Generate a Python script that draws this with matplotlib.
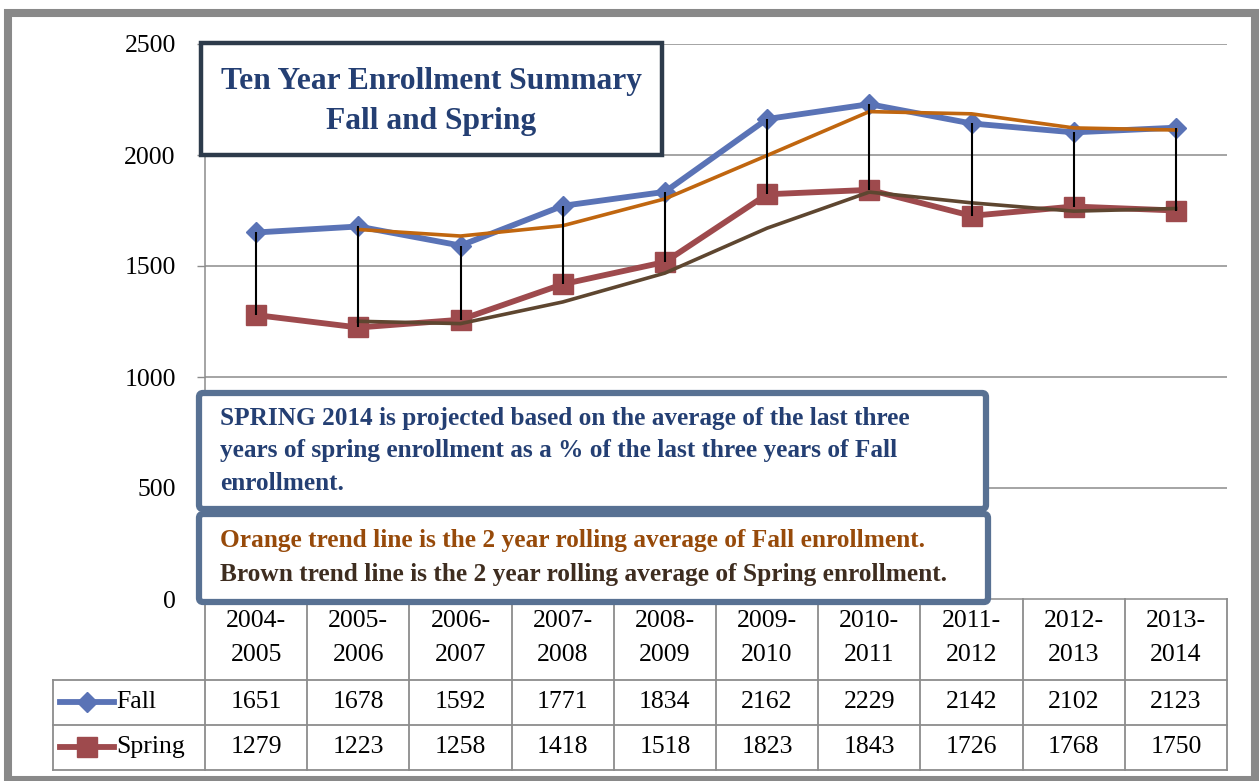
import numpy as np
import pandas as pd
import matplotlib
matplotlib.use("Agg")
import matplotlib.pyplot as plt
from matplotlib.patches import Rectangle, FancyBboxPatch

# --- data ---
years = ["2004-\n2005", "2005-\n2006", "2006-\n2007", "2007-\n2008", "2008-\n2009",
         "2009-\n2010", "2010-\n2011", "2011-\n2012", "2012-\n2013", "2013-\n2014"]
fall = [1651, 1678, 1592, 1771, 1834, 2162, 2229, 2142, 2102, 2123]
spring = [1279, 1223, 1258, 1418, 1518, 1823, 1843, 1726, 1768, 1750]
y_ticks = [0, 500, 1000, 1500, 2000, 2500]

# 2 year moving-average trend lines (as in the chart)
fall_trend = pd.Series(fall).rolling(2).mean()
spring_trend = pd.Series(spring).rolling(2).mean()

FALL_C = "#5A73B6"
SPRING_C = "#9E4A4D"
ORANGE_C = "#C0660F"
BROWN_C = "#5E4630"
GRID_C = "#8C8C8C"
SERIF = ["Liberation Serif", "DejaVu Serif"]
plt.rcParams["font.family"] = SERIF

W, H = 1259, 781
fig = plt.figure(figsize=(W / 100, H / 100), dpi=100)


def fx(px):
    return px / W


def fy(py):
    return 1 - py / H


# plot area: x 205..1227 px, y 44..599 px
ax = fig.add_axes([fx(205), fy(599), fx(1227) - fx(205), fy(44) - fy(599)])
n = len(years)
x = np.arange(n)
ax.set_xlim(-0.5, n - 0.5)
ax.set_ylim(0, 2500)
ax.set_yticks(y_ticks)
ax.set_yticklabels([str(v) for v in y_ticks], fontsize=18.5)
ax.tick_params(axis="y", length=6, width=1, color=GRID_C, pad=15)
ax.set_xticks([])
for s in ["top", "right"]:
    ax.spines[s].set_visible(False)
for s in ["left", "bottom"]:
    ax.spines[s].set_color(GRID_C)
    ax.spines[s].set_linewidth(1.1)
ax.hlines(y_ticks[1:], -0.5, n - 0.5, color=GRID_C, lw=1.1, zorder=1)

ax.plot(x, fall, color=FALL_C, lw=4.2, marker="D", ms=10, zorder=2)
ax.plot(x, spring, color=SPRING_C, lw=4.2, marker="s", ms=14, zorder=2)
ax.plot(x, fall_trend, color=ORANGE_C, lw=2.6, zorder=3)
ax.plot(x, spring_trend, color=BROWN_C, lw=2.6, zorder=3)
ax.vlines(x, spring, fall, color="black", lw=1.5, zorder=4)
ax.set_xlim(-0.5, n - 0.5)

# --- data table under the axis ---
tr = ax.get_xaxis_transform()
ppx = 1 / 555.0  # axes fraction per pixel
col_w = 1022 / n
leg_left = -0.5 - 152 / col_w
r_head, r_fall, r_spring = -81 * ppx, -126 * ppx, -171 * ppx
tl = dict(color=GRID_C, lw=1.3, clip_on=False, transform=tr, scalex=False, scaley=False)
for b in np.arange(n + 1) - 0.5:
    ax.plot([b, b], [0, r_spring], **tl)
ax.plot([leg_left, leg_left], [r_head, r_spring], **tl)
for r in [r_head, r_fall, r_spring]:
    ax.plot([leg_left, n - 0.5], [r, r], **tl)

for i, lab in enumerate(years):
    ax.text(i, -39 * ppx, lab, transform=tr, ha="center", va="center",
            fontsize=18.5, linespacing=1.75)
    ax.text(i, -103 * ppx, str(fall[i]), transform=tr, ha="center", va="center",
            fontsize=18.5)
    ax.text(i, -148 * ppx, str(spring[i]), transform=tr, ha="center", va="center",
            fontsize=18.5)

lx0 = leg_left + 7 / col_w
lx1 = leg_left + 61 / col_w
lk = dict(transform=tr, clip_on=False, scalex=False, scaley=False)
ax.plot([lx0, lx1], [-103 * ppx] * 2, color=FALL_C, lw=4.2, **lk)
ax.plot([(lx0 + lx1) / 2], [-103 * ppx], color=FALL_C, marker="D", ms=10, **lk)
ax.plot([lx0, lx1], [-148 * ppx] * 2, color=SPRING_C, lw=4.2, **lk)
ax.plot([(lx0 + lx1) / 2], [-148 * ppx], color=SPRING_C, marker="s", ms=14, **lk)
ax.text(lx1 + 2 / col_w, -103 * ppx, "Fall", transform=tr, ha="left", va="center",
        fontsize=18.5)
ax.text(lx1 + 2 / col_w, -148 * ppx, "Spring", transform=tr, ha="left", va="center",
        fontsize=18.5)

# --- overlay in pixel coords for the frame and text boxes ---
ov = fig.add_axes([0, 0, 1, 1], zorder=5)
ov.set_xlim(0, W)
ov.set_ylim(H, 0)
ov.axis("off")
ov.patch.set_alpha(0)

ov.add_patch(Rectangle((8, 13), 1247, 767, fill=False, ec="#898989", lw=5.8))

ov.add_patch(Rectangle((201, 43), 461, 112, fc="white", ec="#2D3B4B", lw=3.2))
ov.text(431, 81, "Ten Year Enrollment Summary", ha="center", va="center",
        fontsize=22.7, fontweight="bold", color="#243F73")
ov.text(431, 121, "Fall and Spring", ha="center", va="center",
        fontsize=22.7, fontweight="bold", color="#243F73")

box_kw = dict(boxstyle="round,pad=0,rounding_size=4", fc="white", ec="#587193", lw=4.5)
ov.add_patch(FancyBboxPatch((199, 393), 787, 116, **box_kw))
ov.add_patch(FancyBboxPatch((199, 514), 789, 88, **box_kw))
note1 = ["SPRING 2014 is projected based on the average of the last three",
         "years of spring enrollment as a % of the last three years of Fall",
         "enrollment."]
for yy, line in zip([419, 451, 484], note1):
    ov.text(220, yy, line, ha="left", va="center", fontsize=18.2,
            fontweight="bold", color="#243F73")
ov.text(220, 541, "Orange trend line is the 2 year rolling average of Fall enrollment.",
        ha="left", va="center", fontsize=18.3, fontweight="bold", color="#974A0A")
ov.text(220, 575, "Brown trend line is the 2 year rolling average of Spring enrollment.",
        ha="left", va="center", fontsize=18.3, fontweight="bold", color="#3E2D20")

fig.savefig("out.png", dpi=100)
